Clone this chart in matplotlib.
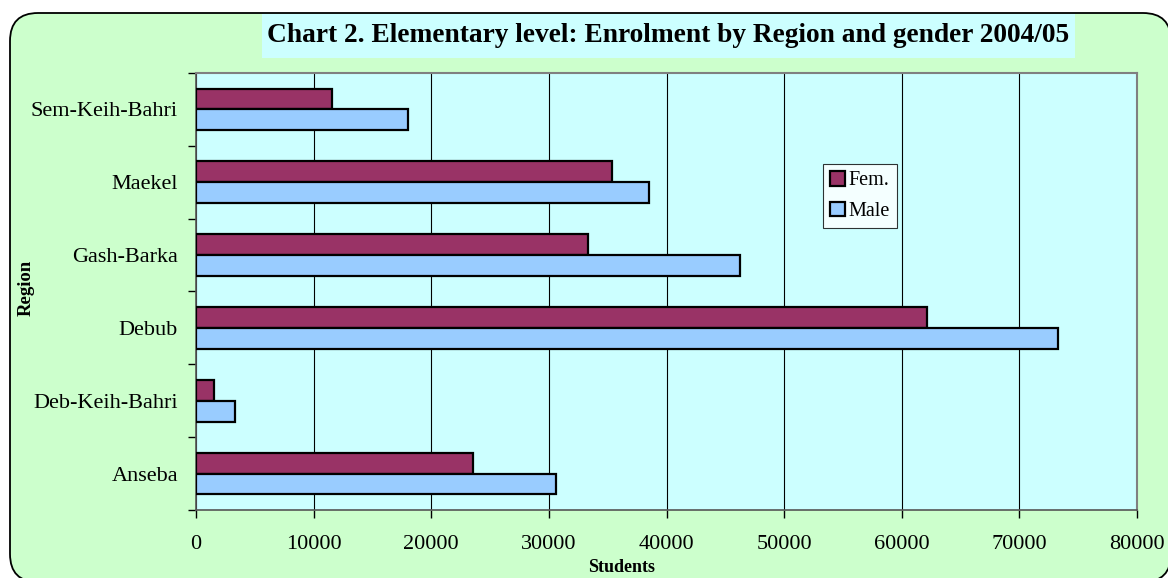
import numpy as np
from matplotlib import pyplot as plt
from matplotlib import patches

regions = ['Anseba', 'Deb-Keih-Bahri', 'Debub', 'Gash-Barka', 'Maekel', 'Sem-Keih-Bahri']
female = [23550, 1550, 62150, 33300, 35350, 11550]
male = [30600, 3350, 73300, 46250, 38500, 18050]
xticks = [0, 10000, 20000, 30000, 40000, 50000, 60000, 70000, 80000]

fem_color = '#993366'
male_color = '#99CCFF'

plt.rcParams['font.family'] = ['Liberation Serif', 'DejaVu Serif']

W, H = 1168, 578
fig = plt.figure(figsize=(W / 100, H / 100), dpi=100)
fig.patch.set_facecolor('white')

# rounded chart border (runs off right/bottom edge like the original)
border = patches.FancyBboxPatch((10 / W, -4 / H), (1171 - 10) / W, (H - 13 + 4) / H,
                                boxstyle='round,pad=0,rounding_size=0.024',
                                mutation_aspect=W / H,
                                transform=fig.transFigure, facecolor='#CCFFCC',
                                edgecolor='black', linewidth=1.3, zorder=-2)
fig.patches.append(border)

# title box
tbox = patches.Rectangle((262 / W, 1 - 58 / H), (1075 - 262) / W, 44 / H,
                         transform=fig.transFigure, facecolor='#CCFFFF',
                         edgecolor='none', zorder=-1)
fig.patches.append(tbox)
fig.text(668.5 / W, 1 - 36 / H, 'Chart 2. Elementary level: Enrolment by Region and gender 2004/05',
         ha='center', va='center', fontsize=19.7, fontweight='bold', zorder=2)

ax = fig.add_axes([196 / W, 1 - 510 / H, (1137 - 196) / W, (510 - 73) / H])
ax.set_facecolor('#CCFFFF')

y = np.arange(len(regions))
h = 1 / 3.5
ax.barh(y + h / 2, female, height=h, color=fem_color, edgecolor='black',
        linewidth=1.6, label='Fem.', zorder=3)
ax.barh(y - h / 2, male, height=h, color=male_color, edgecolor='black',
        linewidth=1.6, label='Male', zorder=3)

ax.set_xlim(0, 80000)
ax.set_ylim(-0.5, len(regions) - 0.5)
ax.set_xticks(xticks)
ax.set_xticklabels([str(t) for t in xticks], fontsize=16)
ax.xaxis.grid(True, color='black', linewidth=0.8, zorder=1)
ax.set_axisbelow(True)

# category labels centred, ticks on boundaries
ax.set_yticks(np.arange(len(regions) + 1) - 0.5)
ax.set_yticklabels([])
ax.set_yticks(y, minor=True)
ax.set_yticklabels(regions, minor=True, fontsize=16)
ax.tick_params(axis='y', which='minor', length=0, pad=13)
ax.tick_params(axis='y', which='major', length=6, width=1, direction='out')
ax.tick_params(axis='x', length=6, width=1, direction='out', pad=12)

for s in ['top', 'right']:
    ax.spines[s].set_color('#808080')
    ax.spines[s].set_linewidth(1.5)
for s in ['left', 'bottom']:
    ax.spines[s].set_color('#555555')
    ax.spines[s].set_linewidth(1.2)

ax.set_xlabel('Students', fontsize=13, fontweight='bold')
ax.xaxis.set_label_coords((622 - 196) / 941, -(567 - 510) / 437)
ax.set_ylabel('Region', fontsize=13.5, fontweight='bold')
ax.yaxis.set_label_coords(-(196 - 26) / 941, (510 - 288) / 437)
ax.xaxis.label.set_va('center')
ax.yaxis.label.set_va('center')

leg = ax.legend(loc='upper left', bbox_to_anchor=((823 - 196) / 941, (510 - 164) / 437),
                fontsize=14.5, frameon=True, fancybox=False, handlelength=0.75,
                handleheight=0.75, handletextpad=0.15, borderpad=0.35,
                labelspacing=0.55, borderaxespad=0)
leg.get_frame().set_edgecolor('black')
leg.get_frame().set_linewidth(0.8)
leg.get_frame().set_facecolor('white')

fig.savefig('out.png', dpi=100)
